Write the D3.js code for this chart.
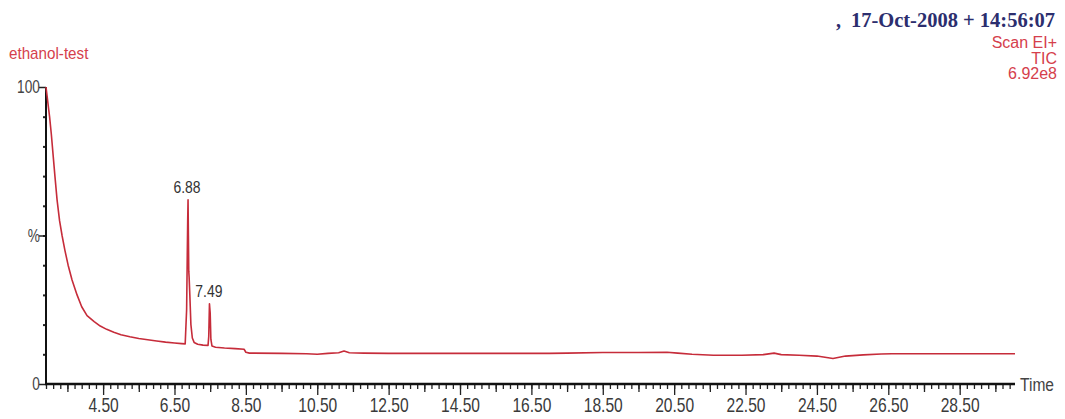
<!DOCTYPE html>
<html>
<head>
<meta charset="utf-8">
<script src="https://cdn.jsdelivr.net/npm/d3@7"></script>
<style>
  body { margin: 0; background: #fff; }
  svg { display: block; font-family: "Liberation Sans", Arial, sans-serif; }
  .stamp { font-family: "Liberation Serif", "Times New Roman", serif; font-weight: bold; }
</style>
</head>
<body>
<div id="chart"></div>
<script>
// retention time (min) and total ion current (% of 6.92e8)
const times = [2.90, 2.93, 2.97, 3.00, 3.05, 3.10, 3.15, 3.21, 3.28, 3.35, 3.43, 3.52, 3.63, 3.77, 3.90,
  4.05, 4.25, 4.42, 4.60, 4.80, 5.00, 5.25, 5.50, 5.75, 6.00, 6.25, 6.50, 6.70, 6.80,
  6.84, 6.87, 6.88, 6.89, 6.90, 6.91, 6.93, 6.96, 7.00, 7.05, 7.15, 7.30, 7.44,
  7.46, 7.48, 7.50, 7.52, 7.55, 7.65, 7.90, 8.20, 8.45, 8.50, 8.60,
  9.50, 10.2, 10.5, 10.8, 11.1, 11.25, 11.4, 11.8, 12.5, 14.0, 16.0, 17.0, 17.5, 18.5, 19.5,
  20.3, 20.6, 21.0, 21.6, 22.4, 23.0, 23.3, 23.5, 24.0, 24.5, 24.95, 25.3, 25.8, 26.3, 26.6, 27.5, 30.05];
const tic = [100, 97, 93, 90, 84, 77, 70, 62, 55, 50, 45, 40, 35, 30, 26,
  23, 21, 19.5, 18.4, 17.4, 16.6, 15.9, 15.3, 14.9, 14.5, 14.1, 13.8, 13.6, 13.5,
  25, 55, 62, 50, 38, 36, 30, 20, 15.5, 14, 13.4, 13.1, 13.0,
  16, 27, 24, 15, 12.8, 12.4, 12.1, 11.9, 11.7, 10.7, 10.4,
  10.3, 10.2, 10.0, 10.3, 10.5, 11.1, 10.5, 10.4, 10.3, 10.3, 10.3, 10.3, 10.4, 10.6, 10.6,
  10.7, 10.4, 10.0, 9.7, 9.7, 9.9, 10.4, 9.9, 9.7, 9.4, 8.6, 9.4, 9.8, 10.1, 10.2, 10.2, 10.2];

const peakTimes = [6.88, 7.49];
const peakValues = [62, 27];
const peakLabels = ["6.88", "7.49"];

const xMajorTicks = [4.5, 6.5, 8.5, 10.5, 12.5, 14.5, 16.5, 18.5, 20.5, 22.5, 24.5, 26.5, 28.5];
const xTickLabels = ["4.50", "6.50", "8.50", "10.50", "12.50", "14.50", "16.50", "18.50", "20.50", "22.50", "24.50", "26.50", "28.50"];
const yMajorTicks = [0, 50, 100];
const yTickLabels = ["0", "%", "100"];

const headerLines = ["Scan EI+", "TIC", "6.92e8"];

const width = 1065, height = 419;
const svg = d3.select("#chart").append("svg")
  .attr("width", width)
  .attr("height", height);

const x = d3.scaleLinear().domain([2.9, 30.05]).range([46, 1015]);
const y = d3.scaleLinear().domain([0, 100]).range([384, 87]);

// the printout's font is condensed, so squeeze text horizontally
function narrowText(sel, px, py, sx) {
  return sel.attr("transform", `translate(${px},${py}) scale(${sx},1)`);
}

// minor ticks every 0.2 min, medium every 1 min
const minorX = d3.range(2.9, 30.0, 0.2).map(d => +d.toFixed(2));
const mediumX = d3.range(3.5, 30.0, 2);

svg.append("g")
  .attr("transform", `translate(0,${y(0)})`)
  .call(d3.axisBottom(x).tickValues(minorX).tickSize(5).tickFormat(""))
  .call(g => g.select(".domain").remove())
  .call(g => g.selectAll("line").attr("stroke", "#222").attr("stroke-width", 1.3));

svg.append("g")
  .attr("transform", `translate(0,${y(0)})`)
  .call(d3.axisBottom(x).tickValues(mediumX).tickSize(8).tickFormat(""))
  .call(g => g.select(".domain").remove())
  .call(g => g.selectAll("line").attr("stroke", "#222").attr("stroke-width", 1.3));

const xAxis = svg.append("g")
  .attr("transform", `translate(0,${y(0)})`)
  .call(d3.axisBottom(x).tickValues(xMajorTicks).tickSize(11).tickPadding(3)
    .tickFormat((d, i) => xTickLabels[i]))
  .call(g => g.select(".domain").remove())
  .attr("font-family", null);
xAxis.selectAll("line").attr("stroke", "#222").attr("stroke-width", 1.3);
xAxis.selectAll("text")
  .attr("font-size", 20)
  .attr("fill", "#3a3a3a")
  .attr("transform", "scale(0.78,1)");

// y axis: minor every 10 %, labelled 0 / % / 100
svg.append("g")
  .attr("transform", `translate(${x(2.9)},0)`)
  .call(d3.axisLeft(y).tickValues(d3.range(10, 100, 10)).tickSize(3).tickFormat(""))
  .call(g => g.select(".domain").remove())
  .call(g => g.selectAll("line").attr("stroke", "#222").attr("stroke-width", 2));

const yAxis = svg.append("g")
  .attr("transform", `translate(${x(2.9)},0)`)
  .call(d3.axisLeft(y).tickValues(yMajorTicks).tickSize(7).tickPadding(1)
    .tickFormat((d, i) => yTickLabels[i]))
  .call(g => g.select(".domain").remove())
  .attr("font-family", null);
yAxis.selectAll("line").attr("stroke", "#222").attr("stroke-width", 1.5);
yAxis.selectAll("text")
  .attr("font-size", 18)
  .attr("fill", "#444")
  .attr("transform", "scale(0.76,1)");

// axis lines
svg.append("line")
  .attr("x1", x(2.9)).attr("x2", x(2.9))
  .attr("y1", y(100)).attr("y2", y(0) + 1)
  .attr("stroke", "#111").attr("stroke-width", 2);
svg.append("line")
  .attr("x1", x(2.9) - 1).attr("x2", x(30.05))
  .attr("y1", y(0)).attr("y2", y(0))
  .attr("stroke", "#111").attr("stroke-width", 2.5);

narrowText(svg.append("text"), x(30.05) + 5, y(0) + 7, 0.82)
  .attr("font-size", 19)
  .attr("fill", "#444")
  .text("Time");

// the chromatogram trace
const line = d3.line()
  .x((d, i) => x(times[i]))
  .y(d => y(d));

svg.append("path")
  .datum(tic)
  .attr("d", line)
  .attr("fill", "none")
  .attr("stroke", "#c62c3a")
  .attr("stroke-width", 1.6)
  .attr("stroke-linejoin", "round");

// peak labels
svg.selectAll(".peak")
  .data(peakTimes)
  .join("text")
  .attr("class", "peak")
  .attr("transform", (d, i) => `translate(${x(d) - 1},${y(peakValues[i]) - 7}) scale(0.82,1)`)
  .attr("text-anchor", "middle")
  .attr("font-size", 17)
  .attr("fill", "#333")
  .text((d, i) => peakLabels[i]);

// header texts
narrowText(svg.append("text"), 9, 59, 0.95)
  .attr("font-size", 16)
  .attr("fill", "#d5404c")
  .text("ethanol-test");

svg.append("text")
  .attr("class", "stamp")
  .attr("x", 836)
  .attr("y", 27)
  .attr("font-size", 20)
  .attr("fill", "#2c2e6e")
  .text(",");

svg.append("text")
  .attr("class", "stamp")
  .attr("x", 1055)
  .attr("y", 27)
  .attr("text-anchor", "end")
  .attr("font-size", 20.5)
  .attr("fill", "#2c2e6e")
  .text("17-Oct-2008 + 14:56:07");

svg.selectAll(".hdr")
  .data(headerLines)
  .join("text")
  .attr("class", "hdr")
  .attr("x", 1057)
  .attr("y", (d, i) => 48 + i * 15.6)
  .attr("text-anchor", "end")
  .attr("font-size", 16)
  .attr("fill", "#d5404c")
  .text(d => d);
</script>
</body>
</html>
